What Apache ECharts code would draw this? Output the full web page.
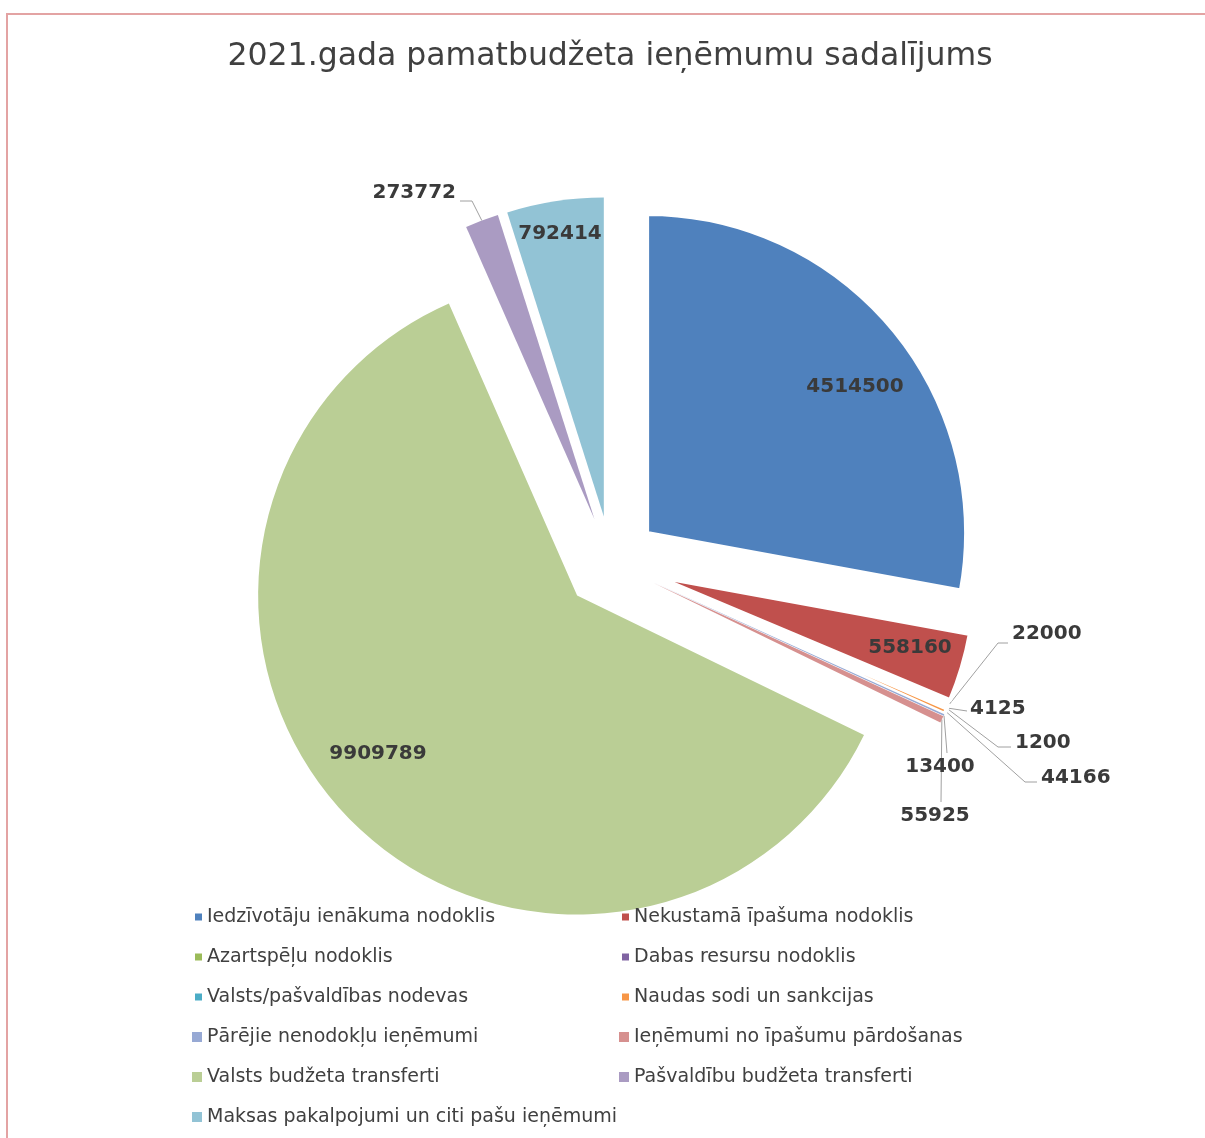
<!DOCTYPE html>
<html>
<head>
<meta charset="utf-8">
<script src="https://cdn.jsdelivr.net/npm/echarts@6/dist/echarts.min.js"></script>
<style>
  body { margin: 0; background: #fff; }
  #frame { position: absolute; left: 6px; top: 13px; width: 1400px; height: 1400px; border: 2px solid #e3a3a3; }
  #main { position: absolute; left: 0; top: 0; width: 1205px; height: 1138px; }
</style>
</head>
<body>
<div id="frame"></div>
<div id="main"></div>
<script>
const titleText = '2021.gada pamatbudžeta ieņēmumu sadalījums';

const categories = [
  'Iedzīvotāju ienākuma nodoklis',
  'Nekustamā īpašuma nodoklis',
  'Azartspēļu nodoklis',
  'Dabas resursu nodoklis',
  'Valsts/pašvaldības nodevas',
  'Naudas sodi un sankcijas',
  'Pārējie nenodokļu ieņēmumi',
  'Ieņēmumi no īpašumu pārdošanas',
  'Valsts budžeta transferti',
  'Pašvaldību budžeta transferti',
  'Maksas pakalpojumi un citi pašu ieņēmumi'
];
const values = [4514500, 558160, 22000, 4125, 1200, 44166, 13400, 55925, 9909789, 273772, 792414];

const colors = ['#4f81bd', '#c0504d', '#9bbb59', '#8064a2', '#4bacc6', '#f79646',
                '#97a9d4', '#d6908f', '#bace95', '#aa9bc2', '#92c3d5'];
// first six slices have a white outline in the original
const outlined = [true, true, true, true, true, true, false, false, false, false, false];

const pieCenter = [611, 563];
const pieRadius = 319;
const explode = 47;

// where each value label sits, and the bends of its leader line
const labelSpots = [
  { x: 855, y: 387, align: 'center' },
  { x: 910, y: 648, align: 'center' },
  { x: 1012, y: 634, align: 'left', line: [[998, 643], [1008, 643]] },
  { x: 970, y: 709, align: 'left', line: [[967, 711]] },
  { x: 1015, y: 743, align: 'left', line: [[998, 747], [1011, 747]] },
  { x: 1041, y: 778, align: 'left', line: [[1025, 782], [1037, 782]] },
  { x: 940, y: 767, align: 'center', line: [[947, 753]] },
  { x: 935, y: 816, align: 'center', line: [[941, 802]] },
  { x: 378, y: 754, align: 'center' },
  { x: 456, y: 193, align: 'right', line: [[472, 201], [460, 201]] },
  { x: 560, y: 234, align: 'center' }
];

const labelFont = 'DejaVu Sans';

// visible, exploded slices
const sliceData = categories.map((name, i) => ({
  name: name,
  value: values[i],
  selected: true,
  itemStyle: {
    color: colors[i],
    borderColor: '#ffffff',
    borderWidth: outlined[i] ? 4 : 0
  }
}));

// invisible copy that only carries the value labels
const labelData = categories.map((name, i) => ({
  name: name,
  value: values[i],
  itemStyle: { color: 'transparent', borderWidth: 0 },
  labelLine: { show: !!labelSpots[i].line }
}));

function legendBlock(idx, left, top, size) {
  return {
    orient: 'vertical',
    left: left,
    top: top,
    padding: 0,
    icon: 'rect',
    itemWidth: size,
    itemHeight: size,
    itemGap: 20,
    selectedMode: false,
    itemStyle: { borderWidth: 0 },
    textStyle: { fontSize: 19, lineHeight: 20, color: '#404040', fontFamily: labelFont },
    data: idx.map(i => categories[i])
  };
}

const chart = echarts.init(document.getElementById('main'));
chart.setOption({
  animation: false,
  title: {
    text: titleText,
    left: 605,
    textAlign: 'center',
    top: 36,
    textStyle: { fontSize: 31.5, fontWeight: 'normal', color: '#404040', fontFamily: labelFont }
  },
  legend: [
    legendBlock([0, 2, 4], 195, 907, 7),
    legendBlock([1, 3, 5], 622, 907, 7),
    legendBlock([6, 8, 10], 192, 1027, 10),
    legendBlock([7, 9], 619, 1027, 10)
  ],
  series: [{
    type: 'pie',
    center: pieCenter,
    radius: pieRadius,
    startAngle: 90,
    clockwise: true,
    selectedMode: 'multiple',
    selectedOffset: explode,
    emphasis: { disabled: true },
    label: { show: false },
    labelLine: { show: false },
    data: sliceData
  }, {
    type: 'pie',
    center: pieCenter,
    radius: pieRadius,
    startAngle: 90,
    clockwise: true,
    silent: true,
    avoidLabelOverlap: false,
    emphasis: { disabled: true },
    label: {
      show: true,
      position: 'outside',
      formatter: '{c}',
      fontSize: 20,
      fontWeight: 'bold',
      color: '#3a3a3a',
      fontFamily: labelFont
    },
    labelLine: {
      show: true,
      length: 10,
      length2: 10,
      lineStyle: { color: '#a0a0a0', width: 1 }
    },
    labelLayout: function (params) {
      const s = labelSpots[params.dataIndex];
      const out = { x: s.x, y: s.y, align: s.align, verticalAlign: 'middle' };
      if (s.line && params.labelLinePoints) {
        // start the leader at the tip of the exploded slice
        const p0 = params.labelLinePoints[0];
        const vx = p0[0] - pieCenter[0], vy = p0[1] - pieCenter[1];
        const len = Math.sqrt(vx * vx + vy * vy) || 1;
        const start = [p0[0] + explode * vx / len, p0[1] + explode * vy / len];
        const pts = [start].concat(s.line);
        if (pts.length === 2) pts.push(pts[1]);
        out.labelLinePoints = pts;
      }
      return out;
    },
    data: labelData
  }]
});
</script>
</body>
</html>
